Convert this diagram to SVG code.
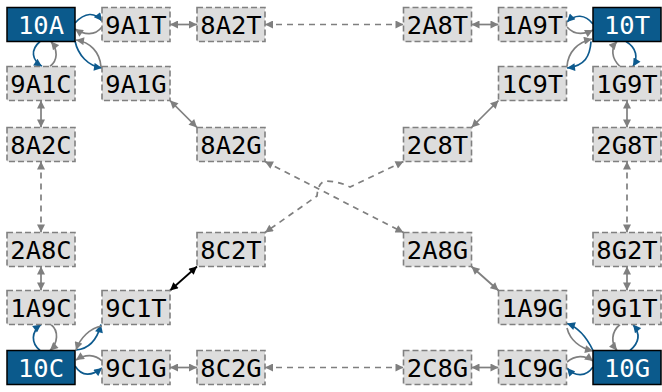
<svg xmlns="http://www.w3.org/2000/svg" width="662" height="392" viewBox="0 0 662 392">
<defs>
<marker id="ag" viewBox="0 0 10 10" refX="10" refY="5" markerWidth="9" markerHeight="8" markerUnits="userSpaceOnUse" orient="auto-start-reverse"><path d="M0,0 L10,5 L0,10 z" fill="#7f7f7f"/></marker>
<marker id="ab" viewBox="0 0 10 10" refX="10" refY="5" markerWidth="9" markerHeight="8" markerUnits="userSpaceOnUse" orient="auto-start-reverse"><path d="M0,0 L10,5 L0,10 z" fill="#0d5a8e"/></marker>
<marker id="ak" viewBox="0 0 10 10" refX="10" refY="5" markerWidth="9" markerHeight="8" markerUnits="userSpaceOnUse" orient="auto-start-reverse"><path d="M0,0 L10,5 L0,10 z" fill="#000"/></marker>
<style>
.n rect{fill:#dddddd;stroke:#808080;stroke-width:1.6;stroke-dasharray:6,3}
.n text{fill:#000}
.h rect{fill:#0b5a8c;stroke:#000;stroke-width:1.5}
.h text{fill:#fff}
text{font-family:"DejaVu Sans Mono",monospace;font-size:25.5px;text-anchor:middle;dominant-baseline:central}
.e path{fill:none;stroke-width:1.7}
.gb{stroke:#7f7f7f;marker-start:url(#ag);marker-end:url(#ag)}
.d{stroke-dasharray:6,5}
.b{stroke:#0d5a8e;marker-end:url(#ab)}
.gc{stroke:#7f7f7f;marker-end:url(#ag)}
.k{stroke:#000;marker-start:url(#ak);marker-end:url(#ak)}
</style>
</defs>
<g class="e" id="connectors">
<path class="gb" d="M170,24.5 L197,24.5"/>
<path class="gb d" d="M265,24.5 L403.5,24.5"/>
<path class="gb" d="M471.5,24.5 L498.5,24.5"/>
<path class="gb" d="M170,367.5 L197,367.5"/>
<path class="gb d" d="M265,367.5 L403.5,367.5"/>
<path class="gb" d="M471.5,367.5 L498.5,367.5"/>
<path class="gb" d="M41,100.5 L41,127.5"/>
<path class="gb d" d="M41,161.5 L41,232.5"/>
<path class="gb" d="M41,266.5 L41,290.5"/>
<path class="gb" d="M627,100.5 L627,127.5"/>
<path class="gb d" d="M627,161.5 L627,232.5"/>
<path class="gb" d="M627,266.5 L627,290.5"/>
<path class="gb" d="M170,100.5 L197,127.5"/>
<path class="gb d" d="M265,161.5 L403.5,232.5"/>
<path class="gb" d="M471.5,266.5 L498.5,290.5"/>
<path class="gb" d="M498.5,100.5 L471.5,127.5"/>
<path class="gb d" d="M403.5,161.5 L350,187 Q338,181 325,181 Q318,183 317,196 L265,232.5"/>
<path class="k" d="M197,266.5 L170,290.5"/>
<path class="b" d="M75,23 C85,12 95,12 102,21"/>
<path class="gc" d="M102,27 C95,36 84,35 75,29"/>
<path class="b" d="M40,41.5 C30,50 32,60 42,66.5"/>
<path class="gc" d="M50,66.5 C58,60 58,50 51,41.5"/>
<path class="b" d="M75,41 C78,55 88,66 102,68"/>
<path class="gc" d="M101,67 C100,52 90,42 76,40"/>
<path class="b" d="M593,24 C585,14 575,14 567,22"/>
<path class="gc" d="M567,27 C574,35 583,35 593,30"/>
<path class="b" d="M591,41.5 C590,56 585,66 567,68"/>
<path class="gc" d="M567,66.5 C568,52 578,42 592,39"/>
<path class="b" d="M626,41.5 C637,48 638,58 633,66.5"/>
<path class="gc" d="M620,66.5 C611,58 611,48 617,41.5"/>
<path class="b" d="M40,350.5 C31,343 31,332 41,324.5"/>
<path class="gc" d="M51,324.5 C59,331 58,343 50,350.5"/>
<path class="b" d="M76,350 C88,349 97,340 101,324.5"/>
<path class="gc" d="M102,326 C90,328 80,338 76,350"/>
<path class="b" d="M75,366 C82,377 92,376 102,368"/>
<path class="gc" d="M102,361 C95,354 85,354 76,360"/>
<path class="b" d="M593,350.5 C588,340 580,328 567,323.5"/>
<path class="gc" d="M567,328 C570,340 580,348 593,351"/>
<path class="b" d="M593,367 C586,377 575,377 567,368"/>
<path class="gc" d="M567,362 C575,355 585,355 593,361"/>
<path class="b" d="M630,350.5 C640,342 640,333 633,324.5"/>
<path class="gc" d="M620,324.5 C611,332 611,343 617,350.5"/>
</g>
<g id="n10A" class="h"><rect x="7" y="7.5" width="68" height="34"/><text x="41" y="24.5">10A</text></g>
<g id="n9A1T" class="n"><rect x="102" y="7.5" width="68" height="34"/><text x="136" y="24.5">9A1T</text></g>
<g id="n8A2T" class="n"><rect x="197" y="7.5" width="68" height="34"/><text x="231" y="24.5">8A2T</text></g>
<g id="n2A8T" class="n"><rect x="403.5" y="7.5" width="68" height="34"/><text x="437.5" y="24.5">2A8T</text></g>
<g id="n1A9T" class="n"><rect x="498.5" y="7.5" width="68" height="34"/><text x="532.5" y="24.5">1A9T</text></g>
<g id="n10T" class="h"><rect x="593" y="7.5" width="68" height="34"/><text x="627" y="24.5">10T</text></g>
<g id="n9A1C" class="n"><rect x="7" y="66.5" width="68" height="34"/><text x="41" y="83.5">9A1C</text></g>
<g id="n9A1G" class="n"><rect x="102" y="66.5" width="68" height="34"/><text x="136" y="83.5">9A1G</text></g>
<g id="n1C9T" class="n"><rect x="498.5" y="66.5" width="68" height="34"/><text x="532.5" y="83.5">1C9T</text></g>
<g id="n1G9T" class="n"><rect x="593" y="66.5" width="68" height="34"/><text x="627" y="83.5">1G9T</text></g>
<g id="n8A2C" class="n"><rect x="7" y="127.5" width="68" height="34"/><text x="41" y="144.5">8A2C</text></g>
<g id="n8A2G" class="n"><rect x="197" y="127.5" width="68" height="34"/><text x="231" y="144.5">8A2G</text></g>
<g id="n2C8T" class="n"><rect x="403.5" y="127.5" width="68" height="34"/><text x="437.5" y="144.5">2C8T</text></g>
<g id="n2G8T" class="n"><rect x="593" y="127.5" width="68" height="34"/><text x="627" y="144.5">2G8T</text></g>
<g id="n2A8C" class="n"><rect x="7" y="232.5" width="68" height="34"/><text x="41" y="249.5">2A8C</text></g>
<g id="n8C2T" class="n"><rect x="197" y="232.5" width="68" height="34"/><text x="231" y="249.5">8C2T</text></g>
<g id="n2A8G" class="n"><rect x="403.5" y="232.5" width="68" height="34"/><text x="437.5" y="249.5">2A8G</text></g>
<g id="n8G2T" class="n"><rect x="593" y="232.5" width="68" height="34"/><text x="627" y="249.5">8G2T</text></g>
<g id="n1A9C" class="n"><rect x="7" y="290.5" width="68" height="34"/><text x="41" y="307.5">1A9C</text></g>
<g id="n9C1T" class="n"><rect x="102" y="290.5" width="68" height="34"/><text x="136" y="307.5">9C1T</text></g>
<g id="n1A9G" class="n"><rect x="498.5" y="290.5" width="68" height="34"/><text x="532.5" y="307.5">1A9G</text></g>
<g id="n9G1T" class="n"><rect x="593" y="290.5" width="68" height="34"/><text x="627" y="307.5">9G1T</text></g>
<g id="n10C" class="h"><rect x="7" y="350.5" width="68" height="34"/><text x="41" y="367.5">10C</text></g>
<g id="n9C1G" class="n"><rect x="102" y="350.5" width="68" height="34"/><text x="136" y="367.5">9C1G</text></g>
<g id="n8C2G" class="n"><rect x="197" y="350.5" width="68" height="34"/><text x="231" y="367.5">8C2G</text></g>
<g id="n2C8G" class="n"><rect x="403.5" y="350.5" width="68" height="34"/><text x="437.5" y="367.5">2C8G</text></g>
<g id="n1C9G" class="n"><rect x="498.5" y="350.5" width="68" height="34"/><text x="532.5" y="367.5">1C9G</text></g>
<g id="n10G" class="h"><rect x="593" y="350.5" width="68" height="34"/><text x="627" y="367.5">10G</text></g>
</svg>
